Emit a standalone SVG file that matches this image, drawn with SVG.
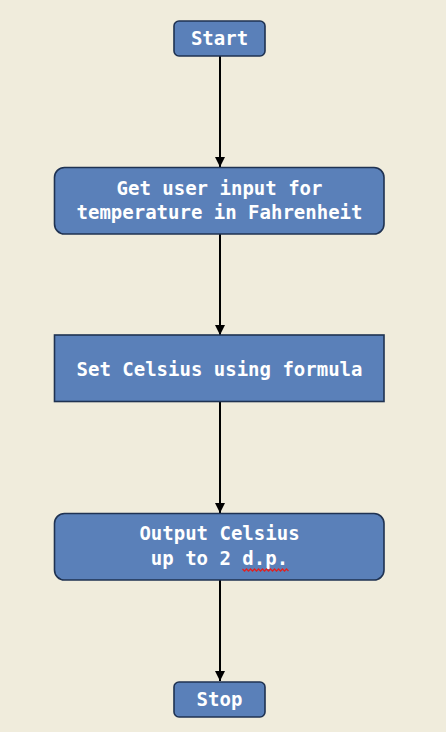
<svg xmlns="http://www.w3.org/2000/svg" width="446" height="732" viewBox="0 0 446 732">
<defs>
<style>
.box{fill:#5a80b9;stroke:#1f3252;stroke-width:1.6}
.t{fill:#ffffff;font-family:"DejaVu Sans Mono","Liberation Mono",monospace;font-weight:bold;font-size:19px;text-anchor:middle}
.c{stroke:#000;stroke-width:2;fill:none}
</style>
<marker id="ah" viewBox="0 0 10 10" refX="10" refY="5" markerWidth="5" markerHeight="5" markerUnits="strokeWidth" orient="auto">
<path d="M0,0 L10,5 L0,10 z" fill="#000"/>
</marker>
</defs>
<rect width="446" height="732" fill="#f0ecdc"/>
<g id="connectors">
<line class="c" x1="220" y1="56" x2="220" y2="167" marker-end="url(#ah)"/>
<line class="c" x1="220" y1="234" x2="220" y2="335" marker-end="url(#ah)"/>
<line class="c" x1="220" y1="402" x2="220" y2="513" marker-end="url(#ah)"/>
<line class="c" x1="220" y1="580" x2="220" y2="681" marker-end="url(#ah)"/>
</g>
<g id="start">
<rect class="box" x="174" y="21" width="91" height="35" rx="5"/>
<text class="t" x="219.5" y="45">Start</text>
</g>
<g id="input">
<rect class="box" x="54.5" y="167.5" width="329.5" height="66.5" rx="10"/>
<text class="t" x="219.5" y="194.5">Get user input for</text>
<text class="t" x="219.5" y="218.5">temperature in Fahrenheit</text>
</g>
<g id="process">
<rect class="box" x="54.5" y="335" width="329.5" height="66.5"/>
<text class="t" x="219.5" y="375.5">Set Celsius using formula</text>
</g>
<g id="output">
<rect class="box" x="54.5" y="513.5" width="329.5" height="66.5" rx="10"/>
<text class="t" x="219.5" y="540">Output Celsius</text>
<text class="t" x="219.5" y="564.5">up to 2 d.p.</text>
<path d="M242.5,569 l2,2 l2,-2 l2,2 l2,-2 l2,2 l2,-2 l2,2 l2,-2 l2,2 l2,-2 l2,2 l2,-2 l2,2 l2,-2 l2,2 l2,-2 l2,2 l2,-2 l2,2 l2,-2 l2,2 l2,-2 l2,2" fill="none" stroke="#e02020" stroke-width="1.3"/>
</g>
<g id="stop">
<rect class="box" x="174" y="682" width="91" height="35" rx="5"/>
<text class="t" x="219.5" y="705.5">Stop</text>
</g>
</svg>
